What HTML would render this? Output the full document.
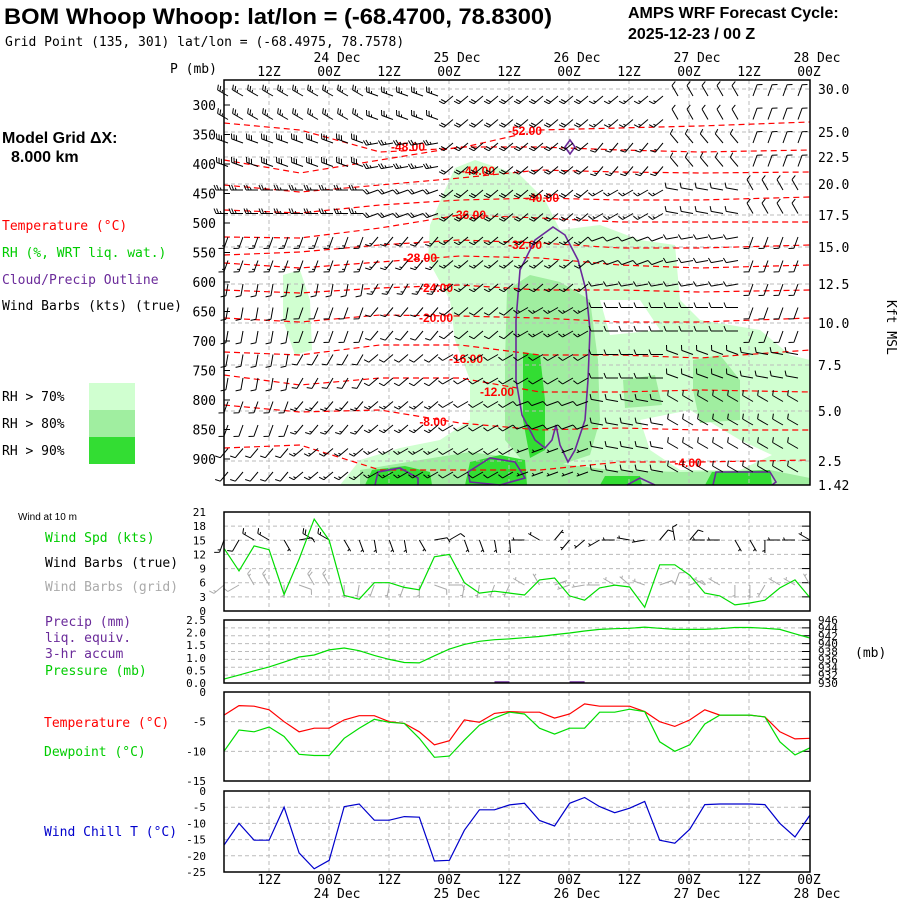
<!DOCTYPE html>
<html><head><meta charset="utf-8">
<style>
html,body{margin:0;padding:0;background:#fff;}
svg{display:block;font-family:"Liberation Sans",sans-serif;}
.t{font-size:13px;}
.m{font-family:"DejaVu Sans Mono","Liberation Mono",monospace;font-size:13px;}
</style></head>
<body>
<svg id="chart" width="900" height="900" viewBox="0 0 900 900" xmlns="http://www.w3.org/2000/svg">
<text x="4" y="24" font-size="22" font-weight="bold" textLength="548" lengthAdjust="spacingAndGlyphs">BOM Whoop Whoop:  lat/lon = (-68.4700, 78.8300)</text>
<text x="5" y="46" class="m">Grid Point (135, 301) lat/lon = (-68.4975, 78.7578)</text>
<text x="628" y="18" font-size="16" font-weight="bold">AMPS WRF Forecast Cycle:</text>
<text x="628" y="39" font-size="16" font-weight="bold">2025-12-23 / 00  Z</text>
<text x="2" y="143" font-size="16" font-weight="bold">Model Grid ΔX:</text>
<text x="11" y="162" font-size="16" font-weight="bold">8.000 km</text>
<text x="2" y="230" class="m" fill="#f00">Temperature (°C)</text>
<text x="2" y="257" class="m" fill="#0c0">RH (%, WRT liq. wat.)</text>
<text x="2" y="284" class="m" fill="#6a2a9a">Cloud/Precip Outline</text>
<text x="2" y="310" class="m">Wind Barbs (kts) (true)</text>
<text x="2" y="401" class="m">RH &gt; 70%</text>
<text x="2" y="428" class="m">RH &gt; 80%</text>
<text x="2" y="455" class="m">RH &gt; 90%</text>
<rect x="89" y="383" width="46" height="27" fill="#d0ffd0"/>
<rect x="89" y="410" width="46" height="27" fill="#a0eea0"/>
<rect x="89" y="437" width="46" height="27" fill="#33dd33"/>
<text x="170" y="73" class="m">P (mb)</text>
<text x="887" y="300" class="m" transform="rotate(90 887 300)">Kft MSL</text>

<text x="18" y="520" font-size="10">Wind at 10 m</text>
<text x="45" y="542" class="m" fill="#0c0">Wind Spd (kts)</text>
<text x="45" y="567" class="m">Wind Barbs (true)</text>
<text x="45" y="591" class="m" fill="#aaa">Wind Barbs (grid)</text>
<text x="45" y="626" class="m" fill="#6a2a9a">Precip (mm)</text>
<text x="45" y="642" class="m" fill="#6a2a9a">liq. equiv.</text>
<text x="45" y="658" class="m" fill="#6a2a9a">3-hr accum</text>
<text x="45" y="675" class="m" fill="#0c0">Pressure (mb)</text>
<text x="855" y="657" class="m">(mb)</text>
<text x="44" y="727" class="m" fill="#f00">Temperature (°C)</text>
<text x="44" y="756" class="m" fill="#0c0">Dewpoint (°C)</text>
<text x="44" y="836" class="m" fill="#00c">Wind Chill T (°C)</text>
<g id="g"></g>
</svg>
<script>
// ---- data (3-hourly from 03Z 23 Dec to 00Z 28 Dec) ----
const windSpd=[13.3,8.5,13.8,13,3.5,11,19.5,15,3.3,2.5,6,6,5,4.5,11.5,12,6,3.8,4.2,3.8,3.4,6.6,7,3.2,2.3,4.9,5.5,5.1,0.8,9.8,9.8,7.6,3.8,3.2,1.3,1.7,2.3,4.9,6.6,2.8];
const windDir10=[200,210,300,300,150,80,300,300,150,160,170,160,170,150,80,60,160,160,170,175,270,300,40,220,230,240,270,280,260,40,350,40,270,270,150,150,180,270,270,300];
const pressure=[931.0,932.0,933.1,934.1,935.3,936.6,937.1,938.4,938.9,938.2,937.0,936.0,935.2,935.1,936.9,938.6,939.8,940.6,941.0,941.2,941.5,941.8,942.3,942.7,943.2,943.6,943.8,943.9,944.2,943.9,943.6,943.6,943.6,943.8,944.1,944.1,943.9,943.6,942.5,941.4];
const precip=[0,0,0,0,0,0,0,0,0,0,0,0,0,0,0,0,0,0,0,0.03,0,0,0,0,0.03,0,0,0,0,0,0,0,0,0,0,0,0,0,0,0];
const tempC=[-3.9,-2.3,-2.4,-3.0,-5.0,-6.7,-6.1,-6.1,-4.7,-4.0,-4.0,-5.0,-5.3,-6.7,-8.9,-8.2,-4.7,-5.1,-3.6,-3.3,-3.4,-3.4,-4.4,-3.7,-2.0,-2.4,-2.4,-2.4,-3.3,-5.0,-5.8,-4.7,-3.0,-3.9,-3.9,-3.9,-4.2,-6.7,-7.9,-7.8];
const dewC=[-10.0,-6.4,-6.7,-5.9,-7.5,-10.5,-10.7,-10.7,-7.8,-6.1,-4.6,-5.1,-5.3,-7.8,-11.0,-10.8,-8.1,-5.6,-4.4,-3.4,-3.7,-6.1,-7.1,-6.1,-6.1,-3.4,-3.4,-2.9,-3.3,-8.4,-10.0,-8.9,-5.4,-3.9,-3.9,-3.9,-4.2,-8.4,-10.6,-9.4];
const windChill=[-16.7,-10.0,-15.2,-15.2,-5.0,-19.1,-24.0,-21.4,-4.8,-4.0,-9.0,-9.0,-7.9,-8.1,-21.6,-21.4,-12.1,-5.8,-5.8,-4.3,-3.8,-9.1,-10.8,-3.8,-2.0,-4.8,-6.7,-5.3,-3.2,-15.2,-16.1,-11.8,-4.2,-4.0,-4.0,-4.0,-4.2,-10.0,-14.2,-7.4];
const hourTicks=["12Z","00Z","12Z","00Z","12Z","00Z","12Z","00Z","12Z","00Z"];
const dateTicks=["24 Dec","25 Dec","26 Dec","27 Dec","28 Dec"];
const pLevels=[300,350,400,450,500,550,600,650,700,750,800,850,900];
const kftLabels=["30.0","25.0","22.5","20.0","17.5","15.0","12.5","10.0","7.5","5.0","2.5","1.42"];
const kftY=[89,132,157,184,215,247,284,323,365,411,461,485];
const wsTicks=[0,3,6,9,12,15,18,21];
const prTicks=["0.0","0.5","1.0","1.5","2.0","2.5"];
const pmbTicks=[930,932,934,936,938,940,942,944,946];
const tTicks=[0,-5,-10,-15];
const wcTicks=[0,-5,-10,-15,-20,-25];
// upper-air barbs: coarse bands (9 levels x 8 time blocks)
const barbDir=[[300,300,290,230,230,230,330,20],[290,290,260,230,230,220,320,20],[270,270,250,230,230,240,280,330],[200,200,220,230,230,250,260,200],[190,190,210,230,230,260,260,200],[190,200,220,230,240,270,270,200],[190,210,230,240,240,270,290,280],[200,220,230,240,250,280,300,300],[220,230,240,240,250,280,300,300]];
const barbSpd=[[25,25,25,20,20,15,10,10],[30,30,25,20,20,15,10,10],[25,25,20,20,20,15,10,10],[15,15,15,15,15,10,10,10],[10,10,15,15,15,10,10,10],[10,10,10,10,15,10,10,10],[10,10,10,10,10,10,10,10],[10,15,15,10,10,10,10,10],[10,15,15,10,5,10,10,10]];
// temperature contours in upper-air panel
const contourVals=[-52,-48,-44,-40,-36,-32,-28,-24,-20,-16,-12,-8,-4];
const contourXs=[224,300,380,460,540,620,700,810];
const contourYs=[[123,130,152,148,130,128,126,122],[160,173,160,147,147,150,152,150],[185,192,185,178,170,172,173,172],[210,213,205,200,198,200,200,197],[237,238,228,215,218,222,222,222],[255,252,245,240,243,248,248,245],[263,268,262,256,258,265,268,265],[290,293,288,285,290,290,292,290],[318,322,315,316,318,322,322,318],[352,355,345,345,355,355,358,350],[375,385,378,378,392,392,390,392],[405,412,410,423,430,428,430,430],[448,445,470,470,470,462,462,460]];
const contourLabelPos=[[525,130],[408,146],[478,170],[542,197],[469,214],[525,244],[420,257],[436,287],[436,317],[466,358],[497,391],[433,421],[688,462]];

const NS="http://www.w3.org/2000/svg";
const G=document.getElementById('g');
function el(tag,attrs,parent){const e=document.createElementNS(NS,tag);for(const k in attrs)e.setAttribute(k,attrs[k]);(parent||G).appendChild(e);return e;}
const X0=224,X1=810;
function xi(i){return X0+i*(X1-X0)/39;}
function xh(h){return X0+(h-3)*5;}
function lineY(arr,yf){return arr.map((v,i)=>(i?'L':'M')+xi(i).toFixed(1)+' '+yf(v).toFixed(1)).join(' ');}
function barb(x,y,dir,spd,color,len,par){
  const r=dir*Math.PI/180, ux=Math.sin(r), uy=-Math.cos(r);
  const ex=x+ux*len, ey=y+uy*len;
  let d='M'+x.toFixed(1)+' '+y.toFixed(1)+'L'+ex.toFixed(1)+' '+ey.toFixed(1);
  const px=-uy, py=ux; let s=Math.round(spd/5)*5; let k=0;
  while(s>=10){const bx=ex-ux*k*2.6,by=ey-uy*k*2.6;d+='M'+bx.toFixed(1)+' '+by.toFixed(1)+'l'+((px*5+ux*2)).toFixed(1)+' '+((py*5+uy*2)).toFixed(1);s-=10;k++;}
  if(s>=5){if(k===0)k=1;const bx=ex-ux*k*2.6,by=ey-uy*k*2.6;d+='M'+bx.toFixed(1)+' '+by.toFixed(1)+'l'+((px*2.5+ux)).toFixed(1)+' '+((py*2.5+uy)).toFixed(1);}
  const p=el('path',{d:d,stroke:color,'stroke-width':1,fill:'none'},par);
  
  
}
// ---------- main panel ----------
const MT=80,MB=485;
const main=el('g',{});


const rh70="M455,168 L475,160 L520,175 L545,200 L560,230 L600,225 L640,240 L675,245 L680,300 L700,320 L760,330 L790,355 L810,360 L810,485 L340,485 L360,460 L400,448 L440,440 L470,420 L470,380 L455,340 L450,300 L428,260 L430,225 L445,190 Z M283,275 L300,270 L310,300 L312,350 L295,355 L283,320 Z";
const p70=el('path',{d:rh70,fill:'#d0ffd0'},main);


const hole=el('path',{d:"M640,420 L690,410 L740,440 L772,455 L740,470 L680,470 L650,450 Z M600,300 L640,300 L660,330 L610,335 Z",fill:'#fff'},main);


const rh80="M507,290 L530,275 L560,282 L590,300 L598,360 L600,420 L590,455 L560,465 L530,470 L505,440 L505,360 Z M693,360 L720,355 L740,380 L740,420 L700,423 L693,390 Z M623,380 L655,375 L662,405 L625,408 Z M360,470 L420,460 L470,452 L530,460 L610,470 L680,472 L770,470 L810,478 L810,485 L360,485 Z";
const p80=el('path',{d:rh80,fill:'#a0eea0'},main);


const rh90="M523,352 L540,355 L545,400 L545,450 L530,458 L523,420 Z M365,485 L372,470 L405,466 L430,472 L432,485 Z M465,485 L470,462 L500,455 L525,460 L527,485 Z M600,485 L605,476 L640,476 L642,485 Z M705,485 L712,472 L770,470 L772,485 Z";
const p90=el('path',{d:rh90,fill:'#33dd33'},main);


for(let h=12;h<=117;h+=12){const gl=el('line',{x1:xh(h),x2:xh(h),y1:MT,y2:MB,stroke:'#bbb','stroke-dasharray':'4,3'},main);}
kftY.slice(0,11).forEach(y=>{const gl=el('line',{x1:X0,x2:X1,y1:y,y2:y,stroke:'#bbb','stroke-dasharray':'4,3'},main);});
contourVals.forEach((v,c)=>{
  const d=contourXs.map((x,j)=>(j?'L':'M')+x+' '+contourYs[c][j]).join(' ');
  const p=el('path',{d:d,stroke:'#f00','stroke-dasharray':'6,4',fill:'none','stroke-width':1.2},main);
  
  
  const t=el('text',{x:contourLabelPos[c][0],y:contourLabelPos[c][1]+5,fill:'#f00','font-size':12,'font-weight':'bold','text-anchor':'middle'},main);
  t.textContent=v.toFixed(2);
  
  
});
const cloud="M553,227 L565,235 L578,260 L586,290 L590,330 L588,380 L585,420 L575,450 L568,462 L560,445 L556,425 L552,440 L545,448 L535,440 L522,415 L516,380 L516,320 L520,270 L535,240 Z M565,147 L570,140 L575,147 L570,154 Z M375,485 L378,472 L400,468 L418,478 L418,485 M468,472 L490,458 L515,462 L525,478 L500,485 L470,482 Z M713,485 L716,472 L770,472 L776,482 L772,485 M627,485 L640,478 L655,485";
const cp=el('path',{d:cloud,stroke:'#6a2a9a','stroke-width':1.6,fill:'none'},main);


for(let y=96;y<=480;y+=23.5){const band=Math.min(8,Math.floor((y-82)/45));for(let i=0;i<39;i++){const tb=Math.min(7,Math.floor(i/5));barb(228+i*15,y,barbDir[band][tb],barbSpd[band][tb],'#000',12,main);}}
const mf=el('rect',{x:X0,y:MT,width:X1-X0,height:MB-MT,fill:'none',stroke:'#000','stroke-width':1.5},main);


pLevels.forEach((p,i)=>{const y=105+i*29.5;const t=el('text',{x:216,y:y+5,'text-anchor':'end',class:'m'},main);t.textContent=p;el('line',{x1:X0,x2:X0+6,y1:y,y2:y,stroke:'#000'},main);});
kftLabels.forEach((l,i)=>{const t=el('text',{x:818,y:kftY[i]+5,class:'m'},main);t.textContent=l;});
function timeLabels(yH,yD){
  hourTicks.forEach((l,i)=>{const t=el('text',{x:xh(12+12*i),y:yH,'text-anchor':'middle',class:'m'});t.textContent=l;});
  dateTicks.forEach((l,i)=>{const t=el('text',{x:xh(24+24*i)+8,y:yD,'text-anchor':'middle',class:'m'});t.textContent=l;});
}
timeLabels(76,62);
timeLabels(884,898);
function panel(name,top,bot,vmin,vmax){
  const g=el('g',{});
  
  
  for(let h=12;h<=117;h+=12){el('line',{x1:xh(h),x2:xh(h),y1:top,y2:bot,stroke:'#bbb','stroke-dasharray':'4,3'},g);}
  const yf=v=>bot-(v-vmin)/(vmax-vmin)*(bot-top);
  return {g,yf,top,bot};
}
function hgrid(P,vals,yf){vals.forEach(v=>{const y=yf(v);if(y>P.top+1&&y<P.bot-1){el('line',{x1:X0,x2:X1,y1:y,y2:y,stroke:'#bbb','stroke-dasharray':'4,3'},P.g);el('line',{x1:X1-8,x2:X1,y1:y,y2:y,stroke:'#000'},P.g);}});}
function leftLabels(P,vals,yf,fmt){vals.forEach(v=>{const t=el('text',{x:206,y:yf(typeof v==='string'?parseFloat(v):v)+4,'text-anchor':'end','font-size':11,'font-family':'DejaVu Sans Mono,monospace'},P.g);t.textContent=fmt?fmt(v):v;});}
function frame(P){const r=el('rect',{x:X0,y:P.top,width:X1-X0,height:P.bot-P.top,fill:'none',stroke:'#000','stroke-width':1.5},P.g);}
function series(P,arr,yf,color,name){const p=el('path',{d:lineY(arr,yf),stroke:color,fill:'none','stroke-width':1.2},P.g);}
const W=panel('wind-panel',512,611,0,21);
hgrid(W,wsTicks,W.yf);leftLabels(W,wsTicks,W.yf);
windSpd.forEach((s,i)=>{barb(xi(i),585,windDir10[i]+30,Math.max(5,s),'#aaa',13,W.g);});
windSpd.forEach((s,i)=>{barb(xi(i),540,windDir10[i],Math.max(5,s),'#000',13,W.g);});
series(W,windSpd,W.yf,'#0d0','wind-speed-line');frame(W);
const Pp=panel('precip-pressure-panel',620,683,930,946);
const prY=v=>683-v/2.5*63;
hgrid(Pp,pmbTicks,Pp.yf);leftLabels(Pp,prTicks,prY);
pmbTicks.forEach(v=>{const t=el('text',{x:818,y:Pp.yf(v)+4,'font-size':11,'font-family':'DejaVu Sans Mono,monospace'},Pp.g);t.textContent=v;});
series(Pp,pressure,Pp.yf,'#0d0','pressure-line');
precip.forEach((v,i)=>{if(v>0){const r=el('rect',{x:xi(i)-15,y:prY(v)-1,width:15,height:Math.max(2,683-prY(v)),fill:'#6a2a9a'},Pp.g);}});
frame(Pp);
const T=panel('temperature-panel',692,781,-15,0);
hgrid(T,tTicks,T.yf);leftLabels(T,tTicks,T.yf);
series(T,tempC,T.yf,'#f00','temperature-line');series(T,dewC,T.yf,'#0d0','dewpoint-line');frame(T);
const C=panel('wind-chill-panel',791,872,-25,0);
hgrid(C,wcTicks,C.yf);leftLabels(C,wcTicks,C.yf);
series(C,windChill,C.yf,'#00c','wind-chill-line');frame(C);
</script>
</body></html>
